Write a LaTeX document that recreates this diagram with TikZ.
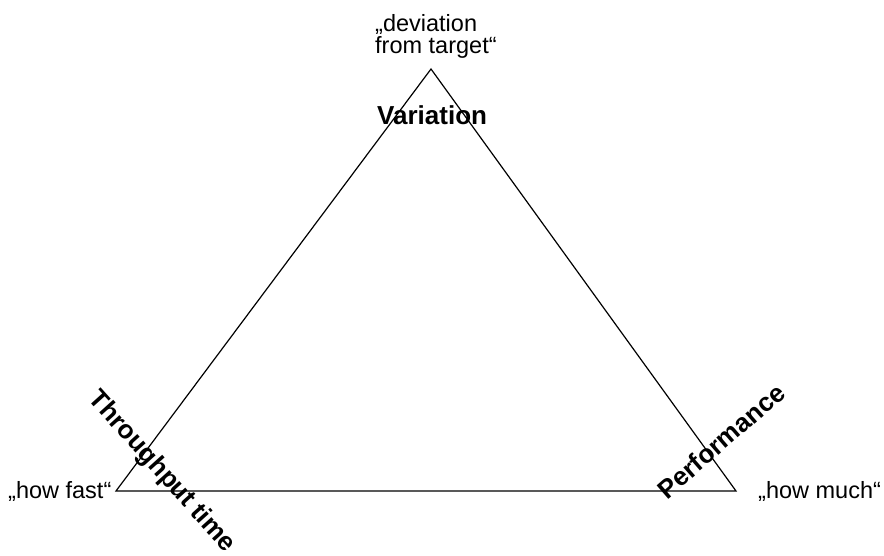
\documentclass[tikz,border=0pt]{standalone}
\usepackage{fontspec}
\setmainfont{Liberation Sans}
\begin{document}
\begin{tikzpicture}[x=1pt,y=-1pt,
  note/.style={inner sep=0pt,font=\fontsize{23.5}{22}\selectfont,align=left},
  corner/.style={inner sep=0pt,font=\fontsize{26}{28}\selectfont\bfseries},
  edge/.style={draw=black,line width=1.2pt,line join=miter}]
\useasboundingbox[fill=white] (0,0) rectangle (884,556);
\coordinate (top) at (431,69);
\coordinate (bl) at (116,491);
\coordinate (br) at (736,491);
\draw[edge] (top) -- (br) -- (bl) -- cycle;
\node[note,anchor=base west] (dev) at (375,54) {„deviation\\from target“};
\node[corner,anchor=base west] (var) at (377,125) {Variation};
\node[note,anchor=base west] (fast) at (8,498) {„how fast“};
\node[note,anchor=base west] (much) at (758,498) {„how much“};
\node[corner,rotate=-48,anchor=center] (thr) at (161.5,472) {Throughput time};
\node[corner,rotate=41,anchor=center] (perf) at (721,441) {Performance};
\end{tikzpicture}
\end{document}
